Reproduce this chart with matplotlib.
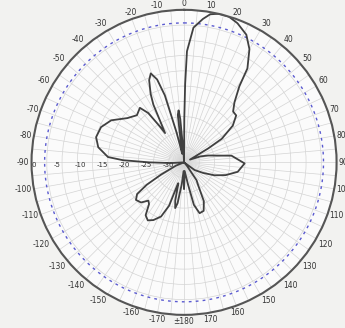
import numpy as np
import matplotlib
matplotlib.use("Agg")
import matplotlib.pyplot as plt
import matplotlib.transforms as mtransforms

# Pattern: angle (deg, clockwise from top) and gain (dB)
angles_deg = [-180, -177, -174, -171, -169, -167, -165, -164, -161, -157, -152,
              -148, -144, -140, -137, -133, -128, -124, -121, -118, -112, -105,
              -98, -93, -90, -88, -86, -80, -74, -67, -60, -52, -45, -39, -36,
              -34, -33, -30, -28, -26, -23, -20.5, -18, -16, -14, -12, -9, -7.5,
              -6, -5, -3, -1, 0, 0.3, 0.8, 1.5, 4, 7.5, 10, 13, 17, 21, 26, 30,
              34, 36, 40, 44, 48, 53, 58, 60, 65, 70, 74, 82, 91, 100, 107, 113,
              119, 126, 132, 140, 145, 148, 153, 158, 163, 167, 170, 176, 180]
gain_db = [-29, -33, -30, -25.5, -24.3, -26, -30, -30, -24.5, -21.5, -20,
           -19.3, -20, -22.5, -23, -21.5, -21, -22, -25, -29, -33, -35,
           -35, -32, -27, -21, -17.5, -15, -14, -14.3, -15.7, -18.5, -19.7, -18.9, -21,
           -25, -27, -24, -20, -17.5, -14.5, -13.2, -15, -19, -28, -33, -30, -24,
           -23, -25, -33, -35, -35, -25, -17, -9.5, -4, -1.8, -0.5, 0, 0, -0.8, -2.4, -5,
           -9, -13.4, -17, -18.8, -18.9, -21, -24.8, -28.6, -33.5, -31, -29.3, -24, -21.1, -22.5, -25, -27.4,
           -30, -32, -35, -34, -30, -29, -25, -23, -22.8, -25, -30, -33, -29]

r_min, r_max = -35, 0
half_power = -3
radial_labels = [0, -5, -10, -15, -20, -25, -30]
angle_labels = list(range(-170, 190, 10))

fig = plt.figure(figsize=(3.45, 3.28), dpi=100, facecolor="#f2f2f0")
ax = fig.add_axes([0.087, 0.040, 0.893, 0.930], projection="polar")
ax.set_facecolor("#fbfbfb")
ax.set_theta_zero_location("N")
ax.set_theta_direction(-1)
ax.set_ylim(r_min, r_max)

# grid: every 5 deg, circles every 3.5 dB
ax.set_xticks(np.deg2rad(np.arange(0, 360, 5)))
ax.set_yticks(np.arange(r_min, r_max, 3.5))
ax.set_xticklabels([])
ax.set_yticklabels([])
ax.grid(True, color="#d4d4d4", lw=0.5)
ax.spines["polar"].set_color("#555555")
ax.spines["polar"].set_linewidth(1.5)

# -3 dB circle
th = np.linspace(0, 2 * np.pi, 361)
ax.plot(th, np.full_like(th, half_power), color="#5a5ad0", lw=1.0,
        linestyle=(0, (2, 3)))

# pattern
ax.plot(np.deg2rad(angles_deg), gain_db, color="#404040", lw=1.3)

# angle labels just outside the circle
for a in angle_labels:
    txt = "±180" if a == 180 else str(a)
    t = np.deg2rad(a)
    s, c = np.sin(t), np.cos(t)
    ha = "left" if s > 0.35 else ("right" if s < -0.35 else "center")
    va = "bottom" if c > 0.35 else ("top" if c < -0.35 else "center")
    ax.text(t, 0.5, txt, ha=ha, va=va, fontsize=5.5, color="#333333",
            clip_on=False)

# radial labels along -90
offs = mtransforms.offset_copy(ax.transData, fig=fig, x=0, y=-3, units="dots")
for v in radial_labels:
    ax.text(np.deg2rad(-90), v, str(v), ha="left", va="center", fontsize=5,
            color="#333333", transform=offs)

fig.savefig("out.png", dpi=100, facecolor=fig.get_facecolor())
